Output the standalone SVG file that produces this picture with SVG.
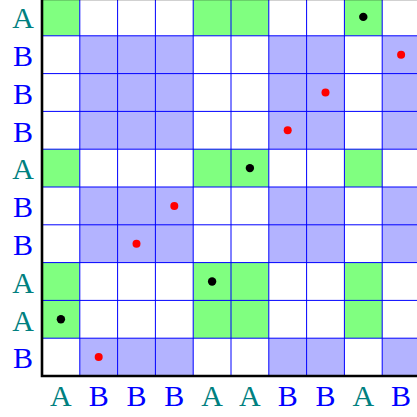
<svg xmlns="http://www.w3.org/2000/svg" width="417" height="417" viewBox="0 0 417 417">
<style>
.g{fill:#80ff80}
.b{fill:#b3b3ff}
.grid{stroke:#0000ff;stroke-width:1;fill:none}
.axis{stroke:#000;stroke-width:2.6;fill:none}
.la{font-family:"Liberation Serif","DejaVu Serif",serif;font-size:30px;fill:#008080;text-anchor:middle}
.lb{font-family:"Liberation Serif","DejaVu Serif",serif;font-size:30px;fill:#0000ff;text-anchor:middle}
.dk{fill:#000}
.dr{fill:#ff0000}
</style>
<rect x="0" y="0" width="417" height="417" fill="#fff"/>
<g id="cells">
<rect class="g" x="42" y="-2" width="37.8" height="37.8"/>
<rect class="g" x="193.2" y="-2" width="75.6" height="37.8"/>
<rect class="g" x="344.4" y="-2" width="37.8" height="37.8"/>
<rect class="g" x="42" y="149.2" width="37.8" height="37.8"/>
<rect class="g" x="193.2" y="149.2" width="75.6" height="37.8"/>
<rect class="g" x="344.4" y="149.2" width="37.8" height="37.8"/>
<rect class="g" x="42" y="262.6" width="37.8" height="75.6"/>
<rect class="g" x="193.2" y="262.6" width="75.6" height="75.6"/>
<rect class="g" x="344.4" y="262.6" width="37.8" height="75.6"/>
<rect class="b" x="79.8" y="35.8" width="113.4" height="113.4"/>
<rect class="b" x="268.8" y="35.8" width="75.6" height="113.4"/>
<rect class="b" x="382.2" y="35.8" width="37.8" height="113.4"/>
<rect class="b" x="79.8" y="187" width="113.4" height="75.6"/>
<rect class="b" x="268.8" y="187" width="75.6" height="75.6"/>
<rect class="b" x="382.2" y="187" width="37.8" height="75.6"/>
<rect class="b" x="79.8" y="338.2" width="113.4" height="37.8"/>
<rect class="b" x="268.8" y="338.2" width="75.6" height="37.8"/>
<rect class="b" x="382.2" y="338.2" width="37.8" height="37.8"/>
</g>
<g id="grid">
<path class="grid" d="M79.8,-2V376M117.6,-2V376M155.4,-2V376M193.2,-2V376M231,-2V376M268.8,-2V376M306.6,-2V376M344.4,-2V376M382.2,-2V376M42,35.8H420M42,73.6H420M42,111.4H420M42,149.2H420M42,187H420M42,224.8H420M42,262.6H420M42,300.4H420M42,338.2H420"/>
<path d="M42,0.5H417" stroke="#000" stroke-opacity="0.18" stroke-width="1"/>
</g>
<g id="axes">
<path class="axis" d="M42,-2V376H417"/>
</g>
<g id="dots">
<circle class="dk" cx="363.3" cy="16.9" r="4.2"/>
<circle class="dr" cx="401.1" cy="54.7" r="4"/>
<circle class="dr" cx="325.5" cy="92.5" r="4"/>
<circle class="dr" cx="287.7" cy="130.3" r="4"/>
<circle class="dk" cx="249.9" cy="168.1" r="4.2"/>
<circle class="dr" cx="174.3" cy="205.9" r="4"/>
<circle class="dr" cx="136.5" cy="243.7" r="4"/>
<circle class="dk" cx="212.1" cy="281.5" r="4.2"/>
<circle class="dk" cx="60.9" cy="319.3" r="4.2"/>
<circle class="dr" cx="98.7" cy="357.1" r="4"/>
</g>
<g id="row-labels">
<text class="la" x="23" y="28.2">A</text>
<text class="lb" x="23" y="66">B</text>
<text class="lb" x="23" y="103.8">B</text>
<text class="lb" x="23" y="141.6">B</text>
<text class="la" x="23" y="179.4">A</text>
<text class="lb" x="23" y="217.2">B</text>
<text class="lb" x="23" y="255">B</text>
<text class="la" x="23" y="292.8">A</text>
<text class="la" x="23" y="330.6">A</text>
<text class="lb" x="23" y="368.4">B</text>
</g>
<g id="col-labels">
<text class="la" x="60.9" y="406">A</text>
<text class="lb" x="98.7" y="406">B</text>
<text class="lb" x="136.5" y="406">B</text>
<text class="lb" x="174.3" y="406">B</text>
<text class="la" x="212.1" y="406">A</text>
<text class="la" x="249.9" y="406">A</text>
<text class="lb" x="287.7" y="406">B</text>
<text class="lb" x="325.5" y="406">B</text>
<text class="la" x="363.3" y="406">A</text>
<text class="lb" x="401.1" y="406">B</text>
</g>
</svg>
